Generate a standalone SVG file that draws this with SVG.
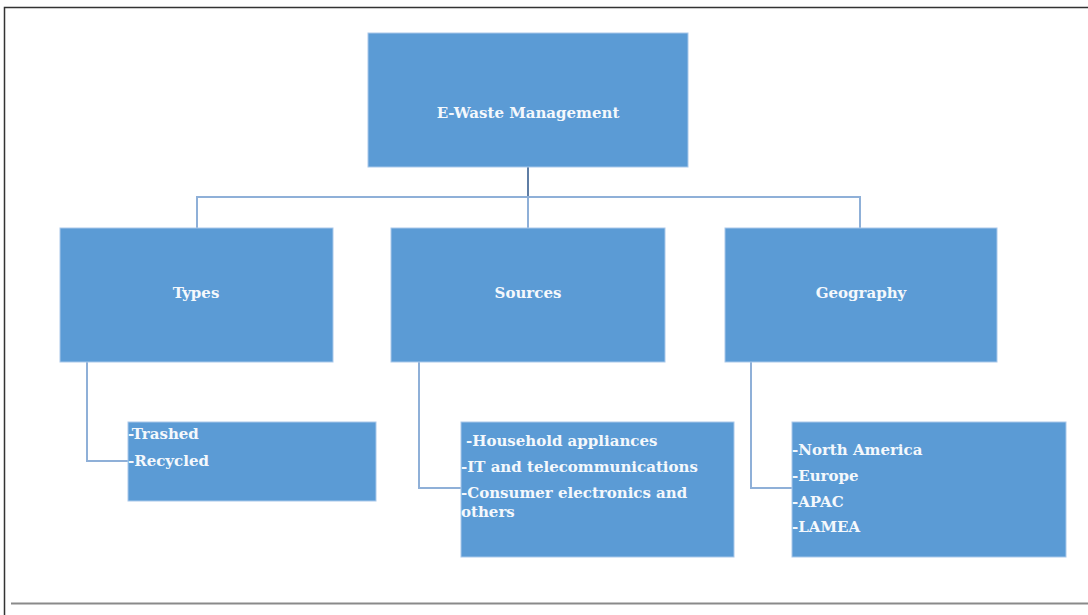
<svg xmlns="http://www.w3.org/2000/svg" width="1088" height="615" viewBox="0 0 1088 615">
<style>
.box{fill:#5B9BD5;stroke:#A9C8EA;stroke-width:1}
.t{fill:#F4F8FC;font-family:"DejaVu Serif","Liberation Serif",serif;font-size:15px;font-weight:bold}
.c{fill:none;stroke:#8FB0D8;stroke-width:2}
</style>
<rect x="0" y="0" width="1088" height="615" fill="#FFFFFF"/>
<path d="M4.5 615 V7.5 H1088" fill="none" stroke="#333333" stroke-width="1.5"/>
<line x1="11" y1="603.5" x2="1088" y2="603.5" stroke="#8A8A8A" stroke-width="2"/>
<g id="connectors">
<line x1="528" y1="167" x2="528" y2="197" stroke="#5F7EA5" stroke-width="2"/>
<path class="c" d="M197 228 V197 H860 V228"/>
<line class="c" x1="528" y1="197" x2="528" y2="228"/>
<path class="c" d="M87 362 V461 H128"/>
<path class="c" d="M419 362 V488 H461"/>
<path class="c" d="M751 362 V488 H792"/>
</g>
<g id="root">
<rect class="box" x="368" y="33" width="320" height="134"/>
<text class="t" x="528" y="118" text-anchor="middle">E-Waste Management</text>
</g>
<g id="types">
<rect class="box" x="60" y="228" width="273" height="134"/>
<text class="t" x="196" y="298" text-anchor="middle">Types</text>
</g>
<g id="sources">
<rect class="box" x="391" y="228" width="274" height="134"/>
<text class="t" x="528" y="298" text-anchor="middle">Sources</text>
</g>
<g id="geography">
<rect class="box" x="725" y="228" width="272" height="134"/>
<text class="t" x="861" y="298" text-anchor="middle">Geography</text>
</g>
<g id="types-list">
<rect class="box" x="128" y="422" width="248" height="79"/>
<text class="t" x="128" y="439">-Trashed</text>
<text class="t" x="128" y="466">-Recycled</text>
</g>
<g id="sources-list">
<rect class="box" x="461" y="422" width="273" height="135"/>
<text class="t" x="466" y="446">-Household appliances</text>
<text class="t" x="461" y="472">-IT and telecommunications</text>
<text class="t" x="461" y="498">-Consumer electronics and</text>
<text class="t" x="461" y="517">others</text>
</g>
<g id="geography-list">
<rect class="box" x="792" y="422" width="274" height="135"/>
<text class="t" x="792" y="455">-North America</text>
<text class="t" x="792" y="481">-Europe</text>
<text class="t" x="792" y="507">-APAC</text>
<text class="t" x="792" y="532">-LAMEA</text>
</g>
</svg>
